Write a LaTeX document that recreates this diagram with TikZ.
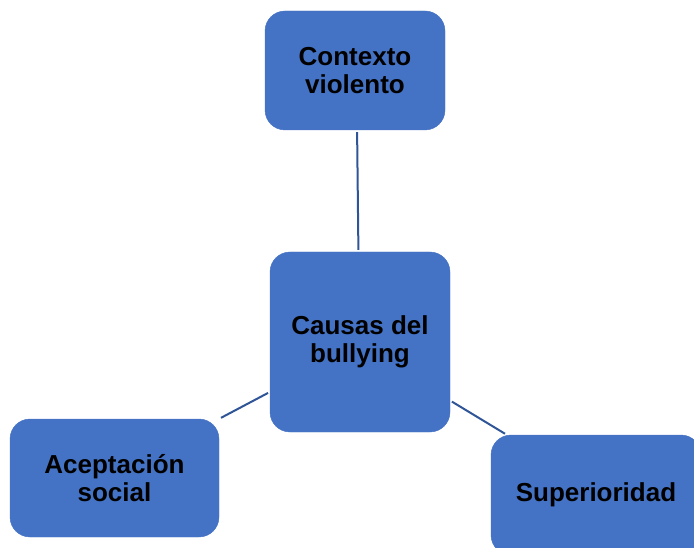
\documentclass[tikz,border=0pt]{standalone}
\usepackage{fontspec}
\setmainfont{Liberation Sans}
\usetikzlibrary{positioning}

\definecolor{boxblue}{HTML}{4472C4}
\definecolor{linkblue}{HTML}{2F5597}

\begin{document}
\begin{tikzpicture}[x=1pt, y=-1pt,
  every node/.style={font=\fontsize{26}{28}\selectfont\bfseries},
  causa/.style={rectangle, rounded corners=20pt, fill=boxblue, draw=boxblue,
    inner sep=0pt, align=center},
  link/.style={draw=linkblue, line width=2pt, shorten <=2pt, shorten >=2pt}]
  \useasboundingbox (0,0) rectangle (694,548);
  \clip (0,0) rectangle (694,548);
  \node[causa, minimum width=180pt, minimum height=119pt] (ctx) at (355,70.5) {Contexto\\violento};
  \node[causa, minimum width=180pt, minimum height=180pt] (causas) at (360,342) {Causas del\\bullying};
  \node[causa, minimum width=209pt, minimum height=118pt] (acep) at (114.5,478) {Aceptación\\social};
  \node[causa, minimum width=210pt, minimum height=120pt] (sup) at (596,495) {Superioridad};
  \draw[link] (ctx.-88) -- (causas.91);
  \draw[link] (causas.209) -- (acep.north east);
  \draw[link] (causas.327) -- (sup.146);
\end{tikzpicture}
\end{document}
